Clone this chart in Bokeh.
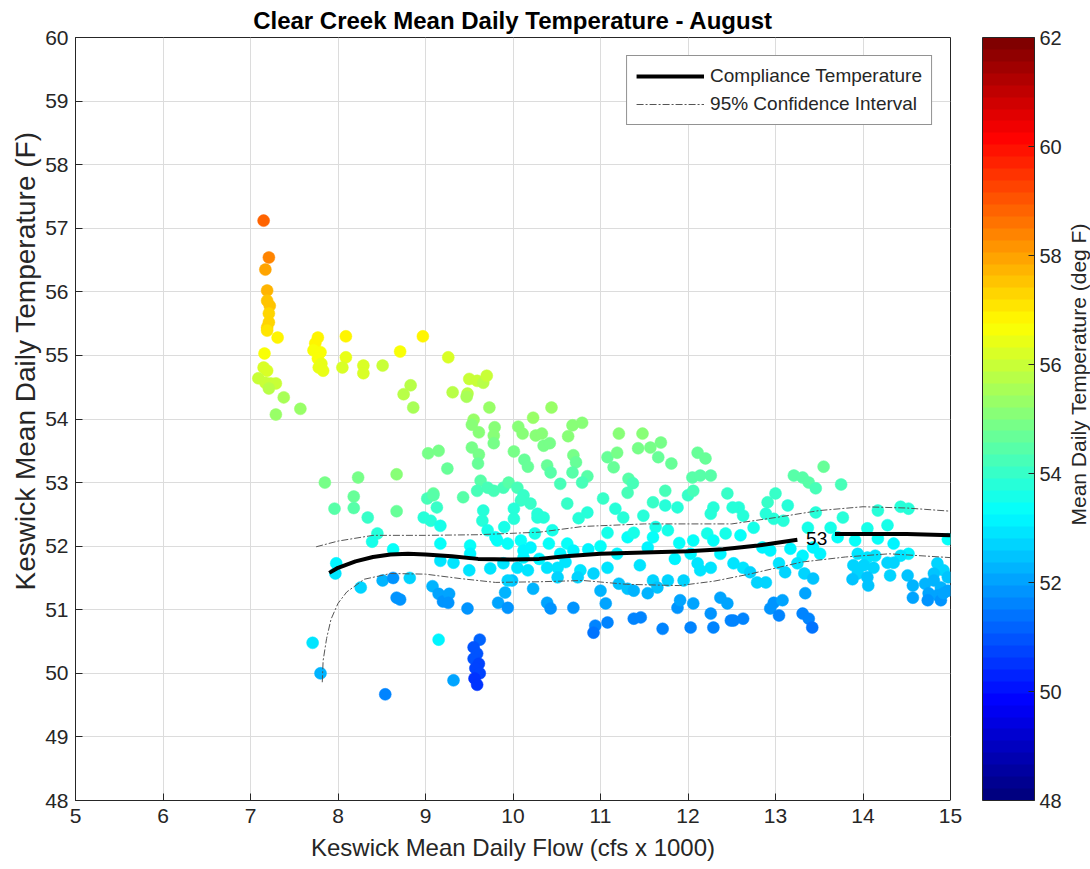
import numpy as np
from bokeh.plotting import figure
from bokeh.layouts import row
from bokeh.models import (ColumnDataSource, Range1d, FixedTicker, ColorBar,
                          LinearColorMapper, Label, Legend, LegendItem,
                          LinearAxis, Title)
from bokeh.embed import file_html
from bokeh.resources import INLINE

# ---------------- data ----------------
flow = [
    7.15, 7.21, 7.17, 7.19, 7.19, 7.22, 7.21, 7.21, 7.19, 7.19,
    7.31, 7.16, 7.15, 7.19, 7.09, 7.17, 7.23, 7.29, 7.21, 7.38,
    7.57, 7.29, 7.77, 7.74, 7.72, 7.80, 7.77, 7.81, 7.78, 7.83,
    8.09, 8.09, 8.05, 8.29, 8.29, 8.51, 8.71, 8.97, 8.83, 8.75,
    8.86, 9.26, 9.31, 9.48, 9.50, 9.59, 9.66, 9.70, 9.47, 9.73,
    9.55, 9.53, 9.61, 9.79, 9.78, 9.78, 9.53, 9.61, 9.60, 9.03,
    9.15, 9.25, 8.67, 9.09, 9.43, 10.06, 10.11, 10.23, 10.26, 10.33,
    10.35, 10.42, 10.44, 10.01, 10.13, 10.17, 10.39, 10.43, 10.54, 10.68,
    10.79, 10.63, 10.69, 10.72, 10.68, 10.85, 10.79, 7.85, 8.23, 8.18,
    7.96, 8.18, 8.34, 8.67, 8.45, 8.39, 8.63, 7.98, 7.97, 8.26,
    8.51, 8.63, 8.82, 8.67, 8.71, 9.08, 9.02, 9.09, 9.13, 8.98,
    9.06, 9.17, 9.17, 9.17, 9.32, 9.51, 9.51, 9.50, 9.74, 9.15,
    9.20, 9.27, 9.26, 9.48, 9.83, 9.94, 9.91, 9.99, 10.23, 9.15,
    7.71, 7.80, 9.32, 8.54, 9.62, 9.55, 9.59, 9.55, 9.61, 9.57,
    9.62, 9.56, 9.59, 9.63, 9.59, 9.71, 9.78, 9.89, 9.95, 10.05,
    10.12, 10.20, 10.09, 10.01, 10.01, 10.28, 9.66, 9.65, 9.71, 9.82,
    9.94, 10.09, 10.12, 10.05, 10.17, 9.89, 9.94, 10.12, 11.21, 11.48,
    11.43, 11.57, 11.69, 11.08, 11.19, 11.15, 11.66, 11.81, 11.32, 11.37,
    11.31, 12.11, 12.20, 12.05, 12.14, 12.26, 12.00, 12.06, 12.45, 12.58,
    11.74, 11.60, 11.74, 11.88, 11.03, 11.17, 11.26, 11.49, 10.62, 10.85,
    10.75, 10.28, 10.35, 12.29, 12.26, 11.08, 11.31, 11.38, 11.63, 11.77,
    11.60, 11.54, 11.19, 11.08, 10.92, 10.62, 10.54, 10.69, 10.41, 10.51,
    10.39, 10.77, 10.20, 9.80, 10.51, 10.74, 11.21, 11.31, 11.38, 11.60,
    11.65, 11.54, 11.77, 11.95, 12.11, 12.26, 12.37, 12.43, 12.22, 12.29,
    12.06, 12.03, 12.14, 12.52, 10.39, 10.43, 10.69, 11.00, 11.06, 10.94,
    10.92, 11.08, 11.38, 11.46, 11.71, 12.03, 11.88, 11.91, 12.06, 12.26,
    12.29, 12.45, 12.52, 12.37, 13.55, 13.21, 13.31, 13.38, 13.46, 13.75,
    13.00, 12.91, 13.14, 12.51, 12.63, 12.89, 12.98, 13.09, 13.46, 13.77,
    14.17, 14.43, 14.52, 12.75, 13.37, 13.63, 13.71, 14.05, 14.28, 14.17,
    13.91, 12.60, 12.85, 12.94, 13.17, 13.31, 13.43, 13.51, 14.35, 14.52,
    14.43, 14.97, 13.94, 14.05, 14.14, 13.89, 14.01, 14.12, 14.28, 14.35,
    13.94, 14.05, 13.88, 14.06, 14.31, 14.51, 14.57, 14.57, 14.85, 14.92,
    14.81, 14.97, 14.71, 14.81, 14.89, 14.97, 14.75, 14.85, 14.89, 14.92,
    14.74, 12.63, 12.71, 12.79, 12.89, 13.04, 13.11, 13.25, 13.33, 13.43,
    13.34, 12.98, 13.08, 12.94, 13.04, 13.31, 13.38, 13.42, 12.49, 12.63,
    10.30, 10.60, 10.86, 11.00, 11.45, 11.85, 11.90, 10.25, 9.90, 10.45,
]

keswick_temp = [
    57.12, 56.54, 56.35, 56.02, 55.86, 55.78, 55.66, 55.52, 55.44, 55.39,
    55.28, 55.03, 54.81, 54.76, 54.64, 54.57, 54.56, 54.56, 54.48, 54.34,
    54.16, 54.07, 55.28, 55.19, 55.08, 55.05, 54.95, 54.87, 54.81, 54.76,
    55.30, 54.97, 54.81, 54.84, 54.72, 54.84, 55.06, 55.30, 54.53, 54.39,
    54.18, 54.97, 54.42, 54.40, 54.63, 54.60, 54.57, 54.68, 54.35, 54.18,
    53.99, 53.91, 53.79, 53.87, 53.74, 53.62, 53.55, 53.44, 53.30, 53.46,
    53.50, 53.22, 53.13, 52.83, 52.77, 53.88, 53.77, 54.02, 53.74, 53.77,
    53.58, 53.62, 54.18, 53.49, 53.36, 53.25, 53.27, 53.16, 52.98, 53.90,
    53.94, 53.73, 53.43, 53.32, 53.16, 53.10, 53.00, 53.00, 53.08, 52.78,
    52.59, 52.60, 52.45, 52.55, 52.20, 52.07, 51.95, 51.73, 51.57, 51.35,
    51.46, 51.50, 51.50, 51.19, 51.16, 51.37, 52.75, 52.80, 52.61, 52.45,
    52.40, 52.32, 52.04, 51.77, 51.74, 52.01, 51.88, 51.62, 51.65, 51.25,
    51.13, 51.25, 51.11, 51.02, 51.11, 51.03, 51.27, 51.46, 51.33, 50.53,
    50.48, 50.00, 49.89, 49.67, 50.53, 50.41, 50.31, 50.23, 50.15, 50.08,
    50.00, 49.92, 49.82, 53.03, 52.87, 52.92, 52.87, 52.92, 53.00, 52.92,
    52.80, 52.67, 52.72, 52.59, 52.43, 52.45, 52.56, 52.40, 52.25, 52.09,
    52.04, 52.09, 51.93, 51.66, 51.62, 51.73, 51.46, 51.82, 53.77, 53.77,
    53.54, 53.55, 53.63, 53.40, 53.47, 53.24, 53.40, 53.30, 53.06, 52.99,
    52.84, 53.47, 53.38, 53.08, 53.11, 53.11, 52.80, 52.87, 52.83, 52.61,
    52.87, 52.69, 52.64, 52.61, 52.75, 52.59, 52.45, 52.48, 52.67, 52.53,
    52.44, 52.51, 52.45, 52.61, 52.51, 52.21, 52.14, 52.21, 52.30, 52.25,
    52.14, 51.98, 51.88, 51.66, 51.57, 52.04, 51.88, 51.93, 52.04, 51.66,
    51.66, 51.62, 51.98, 52.14, 51.51, 51.51, 51.41, 51.33, 51.30, 51.46,
    51.35, 51.26, 51.46, 51.46, 51.73, 51.66, 51.88, 52.20, 52.20, 52.09,
    52.09, 51.88, 51.62, 51.73, 51.11, 51.02, 51.03, 51.30, 51.10, 50.75,
    50.64, 50.80, 50.86, 50.88, 50.70, 50.72, 51.03, 51.15, 51.10, 50.94,
    50.72, 51.10, 50.83, 51.19, 53.25, 53.11, 53.08, 53.00, 52.91, 52.97,
    52.83, 52.69, 52.64, 52.61, 52.48, 52.51, 52.43, 52.40, 52.53, 52.45,
    52.56, 52.62, 52.59, 52.29, 52.29, 52.29, 52.14, 52.28, 52.33, 52.12,
    52.09, 52.17, 51.98, 51.93, 51.96, 51.85, 51.98, 51.88, 52.04, 51.88,
    51.85, 52.11, 51.88, 51.82, 51.85, 51.70, 51.70, 51.66, 51.74, 51.74,
    51.57, 51.51, 51.48, 51.38, 51.54, 51.54, 51.38, 51.19, 51.73, 51.62,
    51.57, 51.51, 51.41, 51.46, 51.35, 51.30, 51.26, 51.23, 51.15, 51.26,
    51.15, 51.66, 51.59, 51.43, 51.43, 51.73, 51.59, 51.73, 51.57, 51.49,
    51.26, 51.11, 51.15, 51.02, 50.91, 50.94, 50.86, 50.72, 50.83, 50.86,
    51.80, 51.75, 51.95, 52.00, 51.70, 51.80, 52.05, 52.20, 52.30, 52.25,
]

clear_creek_temp = [
    58.9, 58.4, 58.0, 57.8, 57.6, 57.5, 57.4, 57.3, 57.2, 57.1,
    56.9, 56.6, 56.3, 56.2, 56.0, 56.0, 55.9, 55.9, 55.8, 55.6,
    55.4, 55.4, 56.9, 56.8, 56.7, 56.7, 56.6, 56.5, 56.4, 56.4,
    56.9, 56.5, 56.3, 56.3, 56.2, 55.9, 56.6, 56.9, 55.8, 55.7,
    55.5, 56.1, 55.7, 55.7, 55.9, 55.9, 55.8, 55.9, 55.6, 55.4,
    55.3, 55.2, 55.1, 55.1, 55.0, 54.9, 54.9, 54.8, 54.7, 54.8,
    54.9, 54.6, 55.1, 54.6, 54.5, 55.1, 55.0, 55.3, 55.0, 55.0,
    54.9, 54.9, 55.4, 54.8, 54.7, 54.6, 54.6, 54.5, 54.3, 55.1,
    55.1, 55.0, 54.8, 54.7, 54.5, 54.4, 54.3, 54.9, 54.8, 54.6,
    54.5, 54.4, 54.1, 54.6, 53.8, 53.6, 53.4, 53.1, 52.9, 52.8,
    52.3, 51.9, 52.7, 51.8, 51.8, 52.2, 54.3, 54.4, 54.0, 53.8,
    53.7, 53.6, 53.3, 53.0, 53.0, 53.3, 53.2, 52.9, 52.9, 52.1,
    51.9, 52.1, 51.9, 51.8, 52.0, 51.8, 52.2, 52.5, 52.3, 53.1,
    53.0, 52.3, 52.0, 51.5, 51.2, 51.0, 50.9, 50.9, 50.8, 50.7,
    50.7, 50.6, 50.5, 54.4, 54.2, 54.3, 54.2, 54.3, 54.4, 54.2,
    54.1, 54.0, 54.0, 53.9, 53.7, 53.7, 53.9, 53.7, 53.5, 53.4,
    53.3, 53.4, 53.2, 53.0, 52.9, 53.0, 52.6, 53.1, 55.0, 55.0,
    54.9, 54.9, 54.9, 54.7, 54.8, 54.6, 54.7, 54.6, 54.4, 54.3,
    54.2, 54.7, 54.6, 54.4, 54.4, 54.4, 54.1, 54.2, 54.1, 53.9,
    54.2, 54.0, 53.9, 53.9, 54.1, 53.9, 53.7, 53.8, 54.0, 53.8,
    53.7, 53.8, 53.7, 53.9, 53.8, 53.5, 53.4, 53.5, 53.6, 53.5,
    53.4, 53.2, 53.2, 52.9, 52.8, 53.3, 53.2, 53.2, 53.3, 52.9,
    52.9, 52.9, 53.2, 53.4, 52.6, 52.6, 52.5, 52.4, 52.3, 52.6,
    52.4, 52.3, 52.6, 52.6, 53.0, 52.9, 53.2, 53.5, 53.5, 53.4,
    53.4, 53.2, 52.9, 53.0, 52.0, 51.9, 51.9, 52.3, 52.0, 51.5,
    51.4, 51.6, 51.7, 51.7, 51.5, 51.5, 51.9, 52.0, 52.0, 51.8,
    51.5, 52.0, 51.6, 52.1, 54.6, 54.5, 54.5, 54.4, 54.3, 54.3,
    54.1, 54.0, 53.9, 53.9, 53.8, 53.8, 53.7, 53.7, 53.8, 53.7,
    53.8, 53.9, 53.8, 53.6, 53.6, 53.5, 53.4, 53.5, 53.6, 53.4,
    53.4, 53.4, 53.2, 53.2, 53.2, 53.1, 53.2, 53.1, 53.2, 53.1,
    53.0, 53.3, 53.0, 53.0, 53.0, 52.8, 52.8, 52.7, 52.8, 52.8,
    52.6, 52.5, 52.5, 52.4, 52.6, 52.5, 52.3, 52.1, 52.7, 52.6,
    52.5, 52.4, 52.3, 52.3, 52.2, 52.1, 52.1, 52.0, 51.9, 52.0,
    51.9, 52.9, 52.8, 52.6, 52.6, 52.9, 52.7, 52.9, 52.6, 52.5,
    52.1, 51.9, 52.0, 51.8, 51.7, 51.7, 51.6, 51.4, 51.6, 51.7,
    53.1, 53.0, 53.2, 53.3, 53.0, 53.1, 53.3, 53.5, 53.6, 53.5,
]

# compliance temperature curve (gap where the "53" contour label sits)
comp_flow = [7.9, 8.0, 8.2, 8.4, 8.6, 8.8, 9.0, 9.3, 9.6, 10.0, 10.3, 10.6,
             11.0, 11.5, 12.0, 12.4, 12.8, 13.0, 13.25, float("nan"),
             13.68, 14.0, 14.5, 15.0]
comp_temp = [51.58, 51.66, 51.76, 51.83, 51.87, 51.88, 51.87, 51.84, 51.80,
             51.79, 51.80, 51.84, 51.88, 51.90, 51.92, 51.95, 52.01, 52.05,
             52.10, float("nan"), 52.19, 52.19, 52.19, 52.17]

ci_upper_flow = [7.75, 8.0, 8.4, 9.0, 9.6, 10.3, 10.8, 11.5, 12.0, 12.5,
                 13.0, 13.5, 14.0, 14.5, 15.0]
ci_upper_temp = [51.99, 52.08, 52.17, 52.17, 52.18, 52.22, 52.31, 52.35,
                 52.35, 52.35, 52.45, 52.56, 52.62, 52.60, 52.55]

ci_lower_flow = [7.82, 7.83, 7.87, 7.92, 8.0, 8.1, 8.3, 8.6, 9.0, 9.4, 9.8,
                 10.3, 10.8, 11.3, 11.9, 12.3, 12.7, 13.3, 13.8, 14.3, 15.0]
ci_lower_temp = [49.86, 50.20, 50.55, 50.85, 51.10, 51.28, 51.48, 51.57,
                 51.56, 51.49, 51.43, 51.44, 51.46, 51.40, 51.38, 51.45,
                 51.56, 51.75, 51.83, 51.88, 51.82]

x_ticks = [5, 6, 7, 8, 9, 10, 11, 12, 13, 14, 15]
y_ticks = [48, 49, 50, 51, 52, 53, 54, 55, 56, 57, 58, 59, 60]
cbar_ticks = [48, 50, 52, 54, 56, 58, 60, 62]
contour_label = "53"

assert len(flow) == len(keswick_temp) == len(clear_creek_temp)

# ---------------- jet colormap (64 levels) ----------------
def jet_palette(n=64):
    cols = []
    for i in range(n):
        t = i / (n - 1)
        r = min(max(1.5 - abs(4 * t - 3), 0), 1)
        g = min(max(1.5 - abs(4 * t - 2), 0), 1)
        b = min(max(1.5 - abs(4 * t - 1), 0), 1)
        cols.append("#%02x%02x%02x" % (int(round(r * 255)), int(round(g * 255)), int(round(b * 255))))
    return cols

JET = jet_palette(64)
mapper = LinearColorMapper(palette=JET, low=48, high=62)

FONT = "Liberation Sans"
DARK = "#262626"

FRAME_W, FRAME_H = 875, 763
TOP, BOTTOM = 37, 68

p = figure(frame_width=FRAME_W, frame_height=FRAME_H,
           x_range=Range1d(5, 15), y_range=Range1d(48, 60),
           output_backend="svg", toolbar_location=None,
           min_border_left=75, min_border_top=TOP, min_border_bottom=BOTTOM,
           min_border_right=0)
p.background_fill_color = "white"
p.border_fill_color = "white"
p.outline_line_color = DARK
p.outline_line_width = 1

p.title.text = "Clear Creek Mean Daily Temperature - August"
p.title.align = "center"
p.title.text_font = FONT
p.title.text_font_style = "bold"
p.title.text_font_size = "24px"
p.title.text_color = "black"
p.title.standoff = 7

src = ColumnDataSource(dict(x=flow, y=keswick_temp, c=clear_creek_temp))
p.scatter("x", "y", source=src, size=12,
          fill_color={"field": "c", "transform": mapper},
          line_color={"field": "c", "transform": mapper}, line_width=0.5)

r_hi = p.line(ci_upper_flow, ci_upper_temp, line_color="#555555", line_width=1,
              line_dash="7 2 2 2")
r_lo = p.line(ci_lower_flow, ci_lower_temp, line_color="#555555", line_width=1,
              line_dash="7 2 2 2")
r_comp = p.line(comp_flow, comp_temp, line_color="black", line_width=4)

p.add_layout(Label(x=13.47, y=52.12, text=contour_label, text_align="center",
                   text_baseline="middle", text_font=FONT,
                   text_font_size="19px", text_color="black"))

# axes
p.xaxis.ticker = FixedTicker(ticks=x_ticks)
p.yaxis.ticker = FixedTicker(ticks=y_ticks)
for ax in (p.xaxis, p.yaxis):
    ax.major_tick_in = 7
    ax.major_tick_out = 0
    ax.minor_tick_line_color = None
    ax.axis_line_color = DARK
    ax.major_tick_line_color = DARK
    ax.major_label_text_font = FONT
    ax.major_label_text_font_size = "21px"
    ax.major_label_text_color = DARK
    ax.axis_label_text_font = FONT
    ax.axis_label_text_font_style = "normal"
    ax.axis_label_text_color = DARK
p.xaxis.axis_label = "Keswick Mean Daily Flow (cfs x 1000)"
p.xaxis.axis_label_text_font_size = "24px"
p.xaxis.major_label_standoff = 8
p.xaxis.axis_label_standoff = 8
p.yaxis.major_label_standoff = 7

# y-axis label as a left-side title (reads bottom to top)
ylab = Title(text="Keswick Mean Daily Temperature (F)", align="left",
             offset=210, text_font=FONT, text_font_style="normal",
             text_font_size="28px", text_color=DARK, standoff=4)
p.add_layout(ylab, "left")

p.grid.grid_line_color = "#dcdcdc"
p.grid.grid_line_width = 1

# legend
legend = Legend(items=[LegendItem(label="Compliance Temperature", renderers=[r_comp]),
                       LegendItem(label="95% Confidence Interval", renderers=[r_hi])],
                location="top_right")
legend.margin = 18
legend.padding = 9
legend.spacing = 6
legend.glyph_width = 68
legend.glyph_height = 18
legend.label_height = 18
legend.label_standoff = 6
legend.label_text_font = FONT
legend.label_text_font_size = "19px"
legend.label_text_color = DARK
legend.border_line_color = DARK
legend.border_line_width = 1
legend.background_fill_color = "white"
legend.background_fill_alpha = 1
p.add_layout(legend)

# gap between plot box and colorbar: an empty axis with one invisible long tick
spacer = LinearAxis(ticker=FixedTicker(ticks=[48]), axis_line_color=None,
                    major_tick_out=32, major_tick_in=0,
                    major_tick_line_color="white",
                    major_label_overrides={48: ""}, major_label_standoff=0,
                    minor_tick_line_color=None, minor_tick_out=0)
p.add_layout(spacer, "right")

# colorbar
cb = ColorBar(color_mapper=mapper, ticker=FixedTicker(ticks=cbar_ticks),
              width=52, padding=0,
              major_label_text_font=FONT, major_label_text_font_size="20px",
              major_label_text_color=DARK, label_standoff=5,
              major_tick_in=6, major_tick_out=0,
              major_tick_line_color=DARK, bar_line_color=DARK,
              bar_line_width=1, background_fill_color="white")
p.add_layout(cb, "right")

# narrow companion figure that carries the colorbar's label (reads bottom to top)
pr = figure(frame_width=1, frame_height=FRAME_H, x_range=Range1d(0, 1),
            y_range=Range1d(48, 60), output_backend="svg",
            toolbar_location=None, x_axis_location=None, y_axis_location=None,
            min_border_left=0, min_border_right=0, min_border_top=TOP,
            min_border_bottom=BOTTOM)
pr.outline_line_color = None
pr.grid.visible = False
pr.background_fill_color = "white"
pr.border_fill_color = "white"
pr.add_layout(Title(text="Mean Daily Temperature (deg F)", align="left",
                    offset=275, text_font=FONT, text_font_style="normal",
                    text_font_size="21px", text_color=DARK, standoff=0), "left")

layout = row(p, pr, spacing=0)
open("out.html", "w").write(file_html(layout, INLINE))
